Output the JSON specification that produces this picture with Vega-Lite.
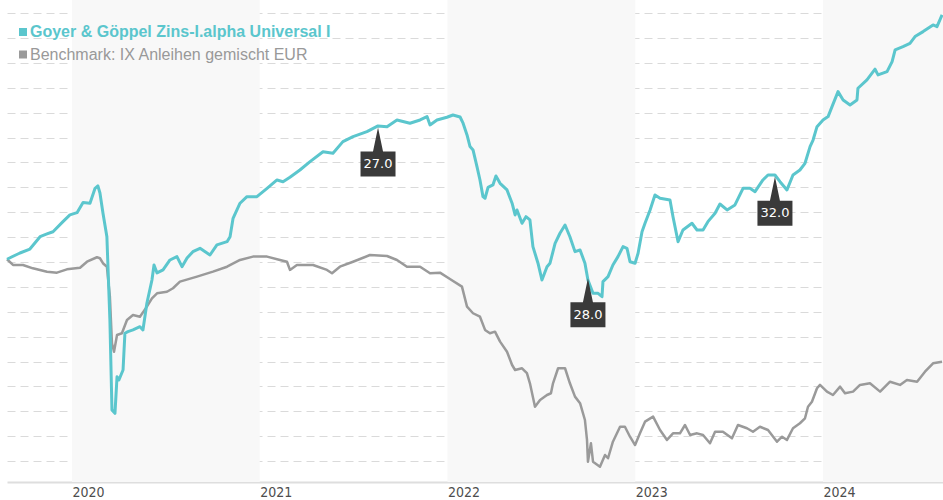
{
  "$schema": "https://vega.github.io/schema/vega-lite/v6.json",
  "width": 936,
  "height": 482,
  "autosize": {"type": "none"},
  "padding": {"left": 7, "top": 0, "right": 0, "bottom": 18},
  "background": "#ffffff",
  "config": {"view": {"stroke": null}},
  "datasets": {
    "bands": [{"start": 2020, "end": 2021}, {"start": 2022, "end": 2023}, {"start": 2024, "end": 2025}],
    "fund": [
      {"t":2019.654,"v":0.22},{"t":2019.723,"v":0.72},{"t":2019.776,"v":1.04},{"t":2019.830,"v":2.03},{"t":2019.867,"v":2.25},{"t":2019.899,"v":2.43},{"t":2019.952,"v":3.24},{"t":2019.989,"v":3.78},{"t":2020.027,"v":3.96},{"t":2020.059,"v":4.77},{"t":2020.096,"v":4.72},{"t":2020.123,"v":5.92},{"t":2020.138,"v":6.11},{"t":2020.149,"v":5.54},{"t":2020.165,"v":3.94},{"t":2020.186,"v":2.03},{"t":2020.202,"v":-4.66},{"t":2020.213,"v":-11.89},{"t":2020.229,"v":-12.16},{"t":2020.240,"v":-9.22},{"t":2020.250,"v":-9.48},{"t":2020.272,"v":-8.68},{"t":2020.282,"v":-5.73},{"t":2020.298,"v":-5.60},{"t":2020.325,"v":-5.46},{"t":2020.362,"v":-5.20},{"t":2020.378,"v":-5.46},{"t":2020.399,"v":-3.32},{"t":2020.426,"v":-1.45},{"t":2020.437,"v":-0.24},{"t":2020.453,"v":-0.88},{"t":2020.485,"v":-0.64},{"t":2020.522,"v":0.16},{"t":2020.559,"v":0.43},{"t":2020.586,"v":-0.38},{"t":2020.613,"v":0.32},{"t":2020.644,"v":0.83},{"t":2020.682,"v":1.10},{"t":2020.735,"v":0.56},{"t":2020.772,"v":1.37},{"t":2020.826,"v":1.63},{"t":2020.842,"v":2.03},{"t":2020.858,"v":3.51},{"t":2020.895,"v":4.72},{"t":2020.932,"v":5.25},{"t":2020.985,"v":5.25},{"t":2021.039,"v":5.92},{"t":2021.092,"v":6.59},{"t":2021.124,"v":6.45},{"t":2021.161,"v":6.81},{"t":2021.214,"v":7.39},{"t":2021.268,"v":8.06},{"t":2021.337,"v":8.86},{"t":2021.390,"v":8.74},{"t":2021.443,"v":9.67},{"t":2021.497,"v":10.07},{"t":2021.571,"v":10.47},{"t":2021.630,"v":10.93},{"t":2021.678,"v":10.87},{"t":2021.731,"v":11.41},{"t":2021.800,"v":11.15},{"t":2021.854,"v":11.41},{"t":2021.891,"v":11.68},{"t":2021.907,"v":11.01},{"t":2021.944,"v":11.41},{"t":2021.997,"v":11.63},{"t":2022.029,"v":11.81},{"t":2022.067,"v":11.65},{"t":2022.083,"v":11.15},{"t":2022.104,"v":10.21},{"t":2022.120,"v":9.27},{"t":2022.136,"v":9.00},{"t":2022.157,"v":7.66},{"t":2022.173,"v":6.59},{"t":2022.189,"v":5.25},{"t":2022.200,"v":5.12},{"t":2022.216,"v":6.00},{"t":2022.242,"v":6.19},{"t":2022.258,"v":6.91},{"t":2022.280,"v":6.32},{"t":2022.317,"v":5.79},{"t":2022.344,"v":4.72},{"t":2022.360,"v":3.78},{"t":2022.370,"v":4.18},{"t":2022.397,"v":3.11},{"t":2022.418,"v":3.64},{"t":2022.439,"v":3.38},{"t":2022.455,"v":1.23},{"t":2022.482,"v":-0.10},{"t":2022.503,"v":-1.45},{"t":2022.530,"v":-0.38},{"t":2022.546,"v":-0.10},{"t":2022.573,"v":1.50},{"t":2022.599,"v":2.31},{"t":2022.626,"v":2.97},{"t":2022.652,"v":2.03},{"t":2022.679,"v":0.83},{"t":2022.706,"v":0.96},{"t":2022.732,"v":-0.10},{"t":2022.748,"v":-1.45},{"t":2022.775,"v":-2.52},{"t":2022.802,"v":-2.52},{"t":2022.823,"v":-2.79},{"t":2022.828,"v":-1.58},{"t":2022.855,"v":-1.18},{"t":2022.881,"v":-0.24},{"t":2022.908,"v":0.43},{"t":2022.935,"v":1.23},{"t":2022.956,"v":1.10},{"t":2022.972,"v":0.02},{"t":2022.999,"v":-0.10},{"t":2023.015,"v":0.70},{"t":2023.036,"v":2.43},{"t":2023.052,"v":3.11},{"t":2023.079,"v":4.18},{"t":2023.105,"v":5.38},{"t":2023.132,"v":5.12},{"t":2023.185,"v":4.98},{"t":2023.201,"v":3.64},{"t":2023.228,"v":1.63},{"t":2023.254,"v":2.57},{"t":2023.302,"v":3.11},{"t":2023.329,"v":2.57},{"t":2023.361,"v":2.57},{"t":2023.387,"v":3.24},{"t":2023.425,"v":3.91},{"t":2023.451,"v":4.66},{"t":2023.489,"v":4.18},{"t":2023.531,"v":4.58},{"t":2023.574,"v":5.92},{"t":2023.611,"v":5.92},{"t":2023.638,"v":5.65},{"t":2023.680,"v":6.59},{"t":2023.707,"v":6.99},{"t":2023.744,"v":6.99},{"t":2023.771,"v":6.45},{"t":2023.808,"v":5.79},{"t":2023.840,"v":6.99},{"t":2023.877,"v":7.39},{"t":2023.904,"v":7.93},{"t":2023.931,"v":9.27},{"t":2023.947,"v":9.80},{"t":2023.968,"v":10.87},{"t":2024.000,"v":11.41},{"t":2024.027,"v":11.68},{"t":2024.048,"v":12.48},{"t":2024.080,"v":13.69},{"t":2024.107,"v":13.02},{"t":2024.144,"v":12.62},{"t":2024.181,"v":13.02},{"t":2024.186,"v":13.96},{"t":2024.234,"v":14.63},{"t":2024.277,"v":15.49},{"t":2024.293,"v":15.03},{"t":2024.341,"v":15.29},{"t":2024.368,"v":16.10},{"t":2024.384,"v":17.04},{"t":2024.426,"v":17.30},{"t":2024.463,"v":17.57},{"t":2024.490,"v":18.11},{"t":2024.533,"v":18.51},{"t":2024.586,"v":19.05},{"t":2024.607,"v":18.91},{"t":2024.634,"v":19.85}
    ],
    "bench": [
      {"t":2019.654,"v":0.22},{"t":2019.686,"v":-0.24},{"t":2019.739,"v":-0.24},{"t":2019.792,"v":-0.51},{"t":2019.867,"v":-0.78},{"t":2019.920,"v":-0.86},{"t":2019.973,"v":-0.59},{"t":2020.043,"v":-0.46},{"t":2020.080,"v":0.02},{"t":2020.133,"v":0.38},{"t":2020.149,"v":0.30},{"t":2020.165,"v":-0.10},{"t":2020.186,"v":-0.38},{"t":2020.202,"v":-2.79},{"t":2020.213,"v":-6.53},{"t":2020.224,"v":-7.21},{"t":2020.240,"v":-5.87},{"t":2020.266,"v":-5.73},{"t":2020.293,"v":-4.66},{"t":2020.325,"v":-4.26},{"t":2020.362,"v":-4.40},{"t":2020.399,"v":-3.59},{"t":2020.426,"v":-2.92},{"t":2020.453,"v":-2.52},{"t":2020.506,"v":-2.39},{"t":2020.538,"v":-2.11},{"t":2020.575,"v":-1.58},{"t":2020.666,"v":-1.18},{"t":2020.751,"v":-0.78},{"t":2020.826,"v":-0.38},{"t":2020.895,"v":0.16},{"t":2020.964,"v":0.43},{"t":2021.039,"v":0.43},{"t":2021.108,"v":0.16},{"t":2021.145,"v":0.02},{"t":2021.161,"v":-0.64},{"t":2021.198,"v":-0.24},{"t":2021.284,"v":-0.24},{"t":2021.358,"v":-0.64},{"t":2021.385,"v":-0.91},{"t":2021.427,"v":-0.38},{"t":2021.497,"v":0.02},{"t":2021.587,"v":0.56},{"t":2021.678,"v":0.48},{"t":2021.731,"v":0.16},{"t":2021.784,"v":-0.38},{"t":2021.854,"v":-0.38},{"t":2021.907,"v":-0.91},{"t":2021.960,"v":-0.86},{"t":2022.013,"v":-1.37},{"t":2022.077,"v":-1.98},{"t":2022.104,"v":-3.59},{"t":2022.136,"v":-4.12},{"t":2022.173,"v":-4.40},{"t":2022.200,"v":-5.46},{"t":2022.226,"v":-5.73},{"t":2022.253,"v":-5.60},{"t":2022.280,"v":-6.40},{"t":2022.317,"v":-7.21},{"t":2022.344,"v":-8.28},{"t":2022.360,"v":-8.68},{"t":2022.397,"v":-8.54},{"t":2022.423,"v":-8.94},{"t":2022.439,"v":-9.75},{"t":2022.466,"v":-11.63},{"t":2022.493,"v":-11.09},{"t":2022.530,"v":-10.69},{"t":2022.551,"v":-10.55},{"t":2022.562,"v":-9.75},{"t":2022.589,"v":-8.54},{"t":2022.626,"v":-8.54},{"t":2022.652,"v":-9.75},{"t":2022.679,"v":-10.82},{"t":2022.706,"v":-11.35},{"t":2022.732,"v":-12.70},{"t":2022.743,"v":-14.30},{"t":2022.748,"v":-16.05},{"t":2022.764,"v":-14.57},{"t":2022.775,"v":-16.05},{"t":2022.812,"v":-16.45},{"t":2022.839,"v":-15.51},{"t":2022.855,"v":-15.77},{"t":2022.881,"v":-14.44},{"t":2022.919,"v":-13.24},{"t":2022.945,"v":-13.24},{"t":2022.972,"v":-14.04},{"t":2022.999,"v":-14.71},{"t":2023.025,"v":-13.77},{"t":2023.052,"v":-12.83},{"t":2023.095,"v":-12.43},{"t":2023.132,"v":-13.50},{"t":2023.169,"v":-14.30},{"t":2023.201,"v":-13.77},{"t":2023.238,"v":-13.77},{"t":2023.265,"v":-13.10},{"t":2023.292,"v":-13.90},{"t":2023.329,"v":-13.77},{"t":2023.361,"v":-13.90},{"t":2023.398,"v":-14.57},{"t":2023.425,"v":-13.64},{"t":2023.467,"v":-13.64},{"t":2023.515,"v":-14.17},{"t":2023.547,"v":-13.10},{"t":2023.595,"v":-13.36},{"t":2023.627,"v":-13.64},{"t":2023.664,"v":-13.24},{"t":2023.707,"v":-13.50},{"t":2023.755,"v":-14.44},{"t":2023.782,"v":-14.04},{"t":2023.808,"v":-14.30},{"t":2023.840,"v":-13.36},{"t":2023.877,"v":-12.96},{"t":2023.904,"v":-12.56},{"t":2023.920,"v":-11.63},{"t":2023.941,"v":-11.23},{"t":2023.968,"v":-10.15},{"t":2023.984,"v":-9.88},{"t":2024.021,"v":-10.42},{"t":2024.053,"v":-10.69},{"t":2024.091,"v":-10.02},{"t":2024.117,"v":-10.55},{"t":2024.160,"v":-10.42},{"t":2024.197,"v":-9.88},{"t":2024.250,"v":-9.75},{"t":2024.304,"v":-10.42},{"t":2024.357,"v":-9.62},{"t":2024.410,"v":-9.88},{"t":2024.447,"v":-9.48},{"t":2024.501,"v":-9.62},{"t":2024.543,"v":-8.82},{"t":2024.586,"v":-8.14},{"t":2024.634,"v":-8.01}
    ],
    "notes": [
      {"t": 2021.630, "v": 10.8, "label": "27.0"},
      {"t": 2022.748, "v": -1.3, "label": "28.0"},
      {"t": 2023.744, "v": 6.85, "label": "32.0"}
    ]
  },
  "layer": [
    {
      "data": {"name": "bands"},
      "mark": {"type": "rect", "color": "#f8f8f8", "clip": true},
      "encoding": {
        "x": {"field": "start", "type": "quantitative",
          "scale": {"domain": [2019.654, 2024.639], "nice": false, "zero": false},
          "axis": {"title": null, "values": [2020, 2021, 2022, 2023, 2024], "format": "d", "grid": false, "ticks": false,
            "labelAlign": "left", "labelPadding": 3, "labelFont": "DejaVu Sans Condensed", "labelFontSize": 14, "labelColor": "#4d4d4d",
            "domainColor": "#dedede", "domainWidth": 2, "labelFlush": false}},
        "x2": {"field": "end"}
      }
    },
    {
      "data": {"name": "bench"},
      "mark": {"type": "line", "strokeWidth": 2.5, "strokeJoin": "round"},
      "encoding": {
        "x": {"field": "t", "type": "quantitative", "scale": {"domain": [2019.654, 2024.639], "nice": false, "zero": false}, "title": null},
        "y": {"field": "v", "type": "quantitative",
          "scale": {"domain": [-17.68, 21.05], "nice": false, "zero": false},
          "axis": {"title": null, "labels": false, "ticks": false, "domain": false, "grid": true, "tickCount": 19,
            "values": [-16, -14, -12, -10, -8, -6, -4, -2, 0, 2, 4, 6, 8, 10, 12, 14, 16, 18, 20],
            "gridColor": "#dadada", "gridDash": [8, 5], "gridWidth": 1}},
        "color": {"datum": "Benchmark: IX Anleihen gemischt EUR", "type": "nominal"}
      }
    },
    {
      "data": {"name": "fund"},
      "mark": {"type": "line", "strokeWidth": 3, "strokeJoin": "round"},
      "encoding": {
        "x": {"field": "t", "type": "quantitative", "scale": {"domain": [2019.654, 2024.639], "nice": false, "zero": false}, "title": null},
        "y": {"field": "v", "type": "quantitative",
          "axis": {"title": null, "labels": false, "ticks": false, "domain": false, "grid": true, "tickCount": 19,
            "values": [-16, -14, -12, -10, -8, -6, -4, -2, 0, 2, 4, 6, 8, 10, 12, 14, 16, 18, 20],
            "gridColor": "#dadada", "gridDash": [8, 5], "gridWidth": 1}},
        "color": {"datum": "Goyer & Göppel Zins-I.alpha Universal I", "type": "nominal",
          "scale": {"domain": ["Goyer & Göppel Zins-I.alpha Universal I", "Benchmark: IX Anleihen gemischt EUR"], "range": ["#5bc6cd", "#9a9a9a"]},
          "legend": {"title": null, "orient": "none", "legendX": 8, "legendY": 24, "padding": 0,
            "symbolType": "square", "symbolSize": 64, "symbolStrokeWidth": 0,
            "labelFont": "Liberation Sans", "labelFontSize": 16, "labelLimit": 700, "labelOffset": -1, "rowPadding": 6.5,
            "encode": {
              "symbols": {"update": {"fill": {"signal": "scale('color', datum.value)"}, "stroke": {"value": "transparent"}, "opacity": {"value": 1}}},
              "labels": {"update": {
                "fill": {"signal": "datum.value == 'Goyer & Göppel Zins-I.alpha Universal I' ? '#5bc6cd' : '#999999'"},
                "fontWeight": {"signal": "datum.value == 'Goyer & Göppel Zins-I.alpha Universal I' ? 'bold' : 'normal'"}}}
            }}
        }
      }
    },
    {
      "data": {"name": "notes"},
      "mark": {"type": "point", "shape": "M0,0L0.385,1.846H1.346V3.77H-1.346V1.846H-0.385Z", "filled": true, "size": 676, "color": "#3a3a3a", "opacity": 1, "strokeWidth": 0},
      "encoding": {
        "x": {"field": "t", "type": "quantitative", "title": null},
        "y": {"field": "v", "type": "quantitative", "title": null}
      }
    },
    {
      "data": {"name": "notes"},
      "mark": {"type": "text", "dy": 36.5, "baseline": "middle", "align": "center", "color": "#ffffff", "font": "DejaVu Sans", "fontSize": 13},
      "encoding": {
        "x": {"field": "t", "type": "quantitative", "title": null},
        "y": {"field": "v", "type": "quantitative", "title": null},
        "text": {"field": "label"}
      }
    }
  ]
}
